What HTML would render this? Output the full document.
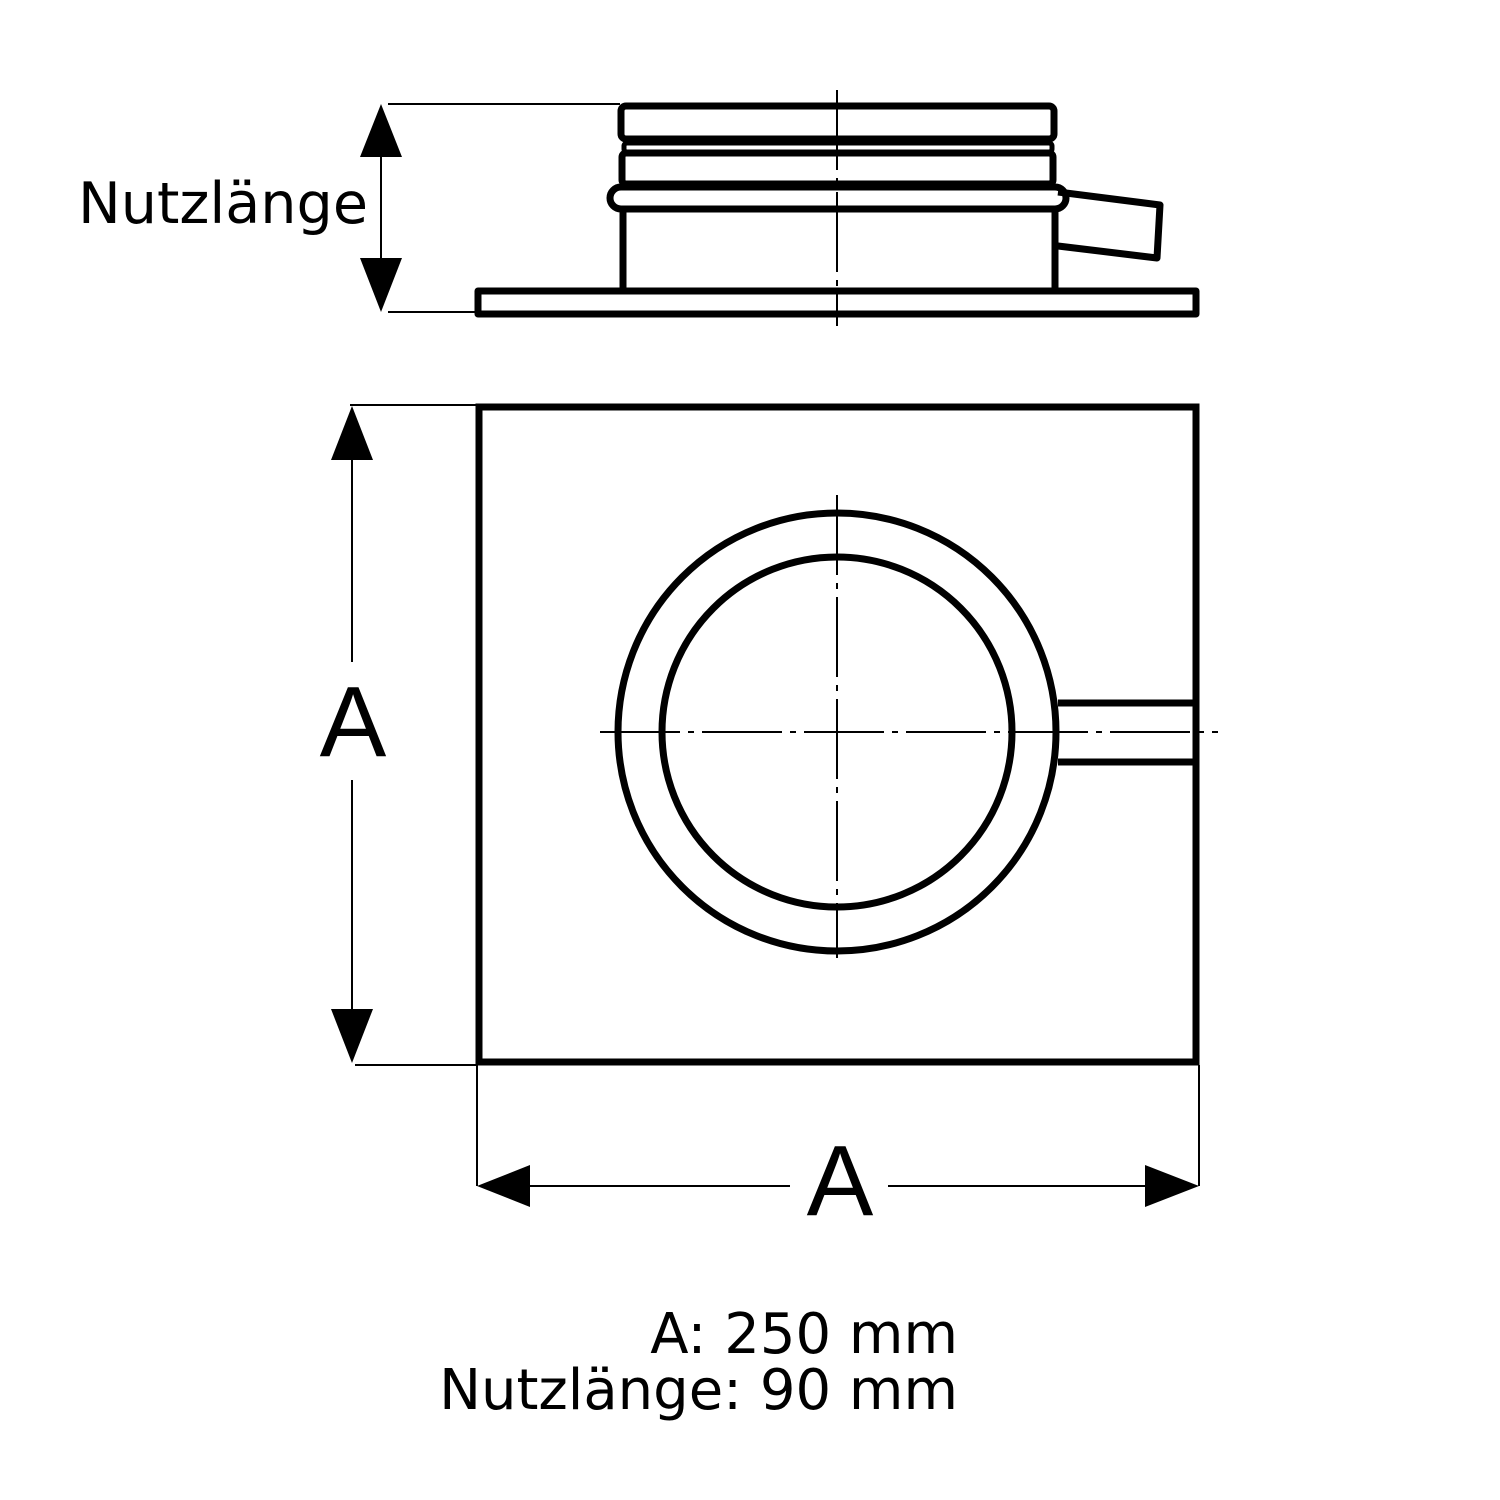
<!DOCTYPE html>
<html><head><meta charset="utf-8"><style>html,body{margin:0;padding:0;background:#fff}svg{display:block}</style></head>
<body>
<svg width="1500" height="1500" viewBox="0 0 1500 1500" xmlns="http://www.w3.org/2000/svg" font-family="'DejaVu Sans','Liberation Sans',sans-serif">
<rect width="1500" height="1500" fill="#fff"/>
<g fill="none" stroke="#000" stroke-width="7" stroke-linejoin="round">
<rect x="621" y="106" width="433" height="33" rx="5"/>
<rect x="624" y="143" width="428" height="9" rx="3" stroke-width="5"/>
<rect x="622" y="153" width="431" height="31" rx="4"/>
<rect x="610" y="187" width="456" height="22" rx="11"/>
<line x1="623" y1="210" x2="623" y2="291"/>
<line x1="1055" y1="210" x2="1055" y2="291"/>
<rect x="478" y="291" width="718" height="23"/>
<polyline points="1058,192 1160,205 1157,258 1058,246"/>
</g>
<line x1="837" y1="90" x2="837" y2="326" stroke="#000" stroke-width="2" stroke-dasharray="80,8,6,8"/>
<g stroke="#000" stroke-width="2">
<line x1="388" y1="104" x2="620" y2="104"/>
<line x1="388" y1="312" x2="478" y2="312"/>
<line x1="381" y1="150" x2="381" y2="265"/>
</g>
<polygon points="381,104 360,157 402,157" fill="#000"/>
<polygon points="381,312 360,258 402,258" fill="#000"/>
<text x="78" y="223" font-size="57" textLength="290" lengthAdjust="spacingAndGlyphs">Nutzlänge</text>
<g fill="none" stroke="#000" stroke-width="7">
<rect x="479" y="407" width="717" height="655"/>
<circle cx="837" cy="732" r="219"/>
<circle cx="837" cy="732" r="175"/>
<line x1="1058" y1="703" x2="1195" y2="703"/>
<line x1="1058" y1="762" x2="1195" y2="762"/>
</g>
<g stroke="#000" stroke-width="2" stroke-dasharray="80,8,6,8">
<line x1="600" y1="732" x2="1218" y2="732"/>
<line x1="837" y1="495" x2="837" y2="958"/>
</g>
<g stroke="#000" stroke-width="2">
<line x1="350" y1="405" x2="478" y2="405"/>
<line x1="355" y1="1065" x2="478" y2="1065"/>
<line x1="352" y1="450" x2="352" y2="662"/>
<line x1="352" y1="780" x2="352" y2="1020"/>
<line x1="477" y1="1065" x2="477" y2="1186"/>
<line x1="1199" y1="1065" x2="1199" y2="1186"/>
<line x1="520" y1="1186" x2="790" y2="1186"/>
<line x1="888" y1="1186" x2="1150" y2="1186"/>
</g>
<polygon points="352,406 331,460 373,460" fill="#000"/>
<polygon points="352,1063 331,1009 373,1009" fill="#000"/>
<polygon points="477,1186 530,1165 530,1207" fill="#000"/>
<polygon points="1199,1186 1145,1165 1145,1207" fill="#000"/>
<text x="353" y="756" font-size="100" text-anchor="middle" font-family="'Liberation Sans',sans-serif">A</text>
<text x="840" y="1215" font-size="100" text-anchor="middle" font-family="'Liberation Sans',sans-serif">A</text>
<text x="958" y="1353" font-size="56" text-anchor="end">A: 250 mm</text>
<text x="958" y="1409" font-size="56" text-anchor="end">Nutzlänge: 90 mm</text>
</svg>
</body></html>
